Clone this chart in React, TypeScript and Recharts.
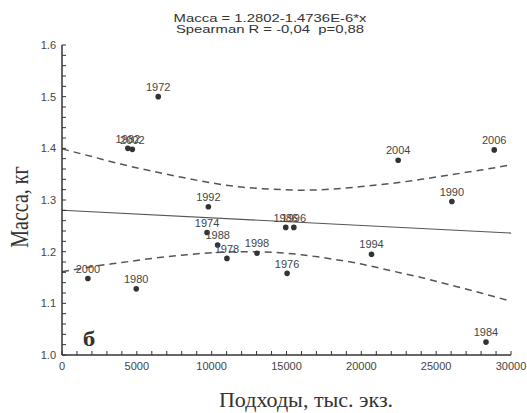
import React from 'react';
import { ComposedChart, Scatter, Line, XAxis, YAxis, ZAxis, LabelList } from 'recharts';

// годы наблюдений, подходы (тыс. экз.) и средняя масса (кг)
const years = [1972, 1974, 1976, 1978, 1980, 1982, 1984, 1986, 1988, 1990, 1992, 1994, 1996, 1998, 2000, 2002, 2004, 2006];
const podkhody = [6430, 9690, 15040, 11020, 4960, 4400, 28330, 14950, 10400, 26050, 9780, 20680, 15490, 13030, 1730, 4700, 22460, 28880];
const massa = [1.5, 1.237, 1.158, 1.187, 1.128, 1.4, 1.025, 1.247, 1.213, 1.297, 1.287, 1.195, 1.247, 1.197, 1.148, 1.398, 1.377, 1.397];

// линия регрессии и доверительные границы
const fitX = [0, 30000];
const fitY = [1.2802, 1.236];
const bandX = [0, 2000, 4000, 6000, 8000, 10000, 12000, 14000, 16000, 18000, 20000, 22000, 24000, 26000, 28000, 30000];
const bandUpper = [1.399, 1.384, 1.369, 1.356, 1.344, 1.333, 1.325, 1.321, 1.319, 1.321, 1.326, 1.332, 1.34, 1.349, 1.358, 1.368];
const bandLower = [1.161, 1.171, 1.179, 1.187, 1.193, 1.198, 1.2, 1.199, 1.194, 1.186, 1.176, 1.163, 1.15, 1.135, 1.12, 1.104];

const xTicks = [0, 1000, 2000, 3000, 4000, 5000, 6000, 7000, 8000, 9000, 10000, 11000, 12000, 13000, 14000, 15000,
  16000, 17000, 18000, 19000, 20000, 21000, 22000, 23000, 24000, 25000, 26000, 27000, 28000, 29000, 30000];
const yTicks = [1.0, 1.02, 1.04, 1.06, 1.08, 1.1, 1.12, 1.14, 1.16, 1.18, 1.2, 1.22, 1.24, 1.26, 1.28, 1.3,
  1.32, 1.34, 1.36, 1.38, 1.4, 1.42, 1.44, 1.46, 1.48, 1.5, 1.52, 1.54, 1.56, 1.58, 1.6];

const points = years.map((year, i) => ({ year, x: podkhody[i], y: massa[i] }));
const fitData = fitX.map((x, i) => ({ x, y: fitY[i] }));
const upperData = bandX.map((x, i) => ({ x, y: bandUpper[i] }));
const lowerData = bandX.map((x, i) => ({ x, y: bandLower[i] }));

const sans = '"Liberation Sans", Arial, sans-serif';
const serif = '"Liberation Serif", "Times New Roman", serif';
const ink = '#333';

const xLabel = (v: number) => (v % 5000 === 0 ? String(v) : '');
const yLabel = (v: number) => (Math.abs(v * 10 - Math.round(v * 10)) < 1e-6 ? v.toFixed(1) : '');

export default function App() {
  return (
    <div style={{ position: 'relative', width: 527, height: 413, background: '#fff' }}>
      <style>{'body{margin:0}'}</style>
      <ComposedChart width={527} height={413} margin={{ top: 45, right: 16, bottom: 0, left: 0 }}>
        <XAxis xAxisId="main" type="number" dataKey="x" domain={[0, 30000]} allowDataOverflow ticks={xTicks}
          interval={0} tickFormatter={xLabel} tickSize={-4} tickMargin={11} height={58}
          axisLine={{ stroke: ink, strokeWidth: 1.5 }} tickLine={{ stroke: ink }}
          tick={{ fill: '#444', fontSize: 11, fontFamily: sans }} />
        <XAxis xAxisId="top" orientation="top" type="number" dataKey="x" domain={[0, 30000]} allowDataOverflow
          ticks={xTicks} interval={0} tickFormatter={() => ''} tickSize={-4} height={0}
          axisLine={{ stroke: ink, strokeWidth: 1.5 }} tickLine={{ stroke: ink }} />
        <YAxis yAxisId="main" type="number" dataKey="y" domain={[1.0, 1.6]} allowDataOverflow ticks={yTicks}
          interval={0} tickFormatter={yLabel} tickSize={-4} tickMargin={10} width={62}
          axisLine={{ stroke: ink, strokeWidth: 1.5 }} tickLine={{ stroke: ink }}
          tick={{ fill: '#444', fontSize: 11, fontFamily: sans }} />
        <YAxis yAxisId="right" orientation="right" type="number" dataKey="y" domain={[1.0, 1.6]} allowDataOverflow
          ticks={yTicks} interval={0} tickFormatter={() => ''} tickSize={-4} width={0}
          axisLine={{ stroke: ink, strokeWidth: 1.5 }} tickLine={{ stroke: ink }} />
        <ZAxis range={[25, 25]} />
        <Line xAxisId="top" yAxisId="right" data={fitData} dataKey="y" type="linear" stroke="#555"
          strokeWidth={1.2} dot={false} isAnimationActive={false} />
        <Line xAxisId="main" yAxisId="main" data={upperData} dataKey="y" type="monotone" stroke="#555"
          strokeWidth={1.5} strokeDasharray="7 5" dot={false} isAnimationActive={false} />
        <Line xAxisId="main" yAxisId="main" data={lowerData} dataKey="y" type="monotone" stroke="#555"
          strokeWidth={1.5} strokeDasharray="7 5" dot={false} isAnimationActive={false} />
        <Scatter xAxisId="main" yAxisId="main" data={points} fill={ink} isAnimationActive={false}>
          <LabelList dataKey="year" position="top" offset={3}
            style={{ fill: '#444', fontSize: 11, fontFamily: sans }} />
        </Scatter>
      </ComposedChart>

      <div style={{ position: 'absolute', left: 0, width: 540, top: 13, textAlign: 'center', fontFamily: sans,
        fontSize: 11, lineHeight: '11px', color: ink, transform: 'scaleX(1.35)', transformOrigin: '270px 0' }}>
        <div>Масса = 1.2802-1.4736E-6*x</div>
        <div>Spearman R = -0,04&nbsp;&nbsp;p=0,88</div>
      </div>
      <div style={{ position: 'absolute', left: 20, top: 207, fontFamily: serif, fontSize: 20, color: ink,
        whiteSpace: 'nowrap', transform: 'translate(-50%, -50%) scaleX(1.25) rotate(-90deg)' }}>
        Масса, кг
      </div>
      <div style={{ position: 'absolute', left: 306, top: 400, fontFamily: serif, fontSize: 20, color: ink,
        whiteSpace: 'nowrap', transform: 'translate(-50%, -50%) scaleX(1.1)' }}>
        Подходы, тыс. экз.
      </div>
      <div style={{ position: 'absolute', left: 89, top: 339, fontFamily: serif, fontSize: 21, fontWeight: 'bold',
        color: ink, transform: 'translate(-50%, -50%) scaleX(1.2)' }}>
        б
      </div>
    </div>
  );
}
